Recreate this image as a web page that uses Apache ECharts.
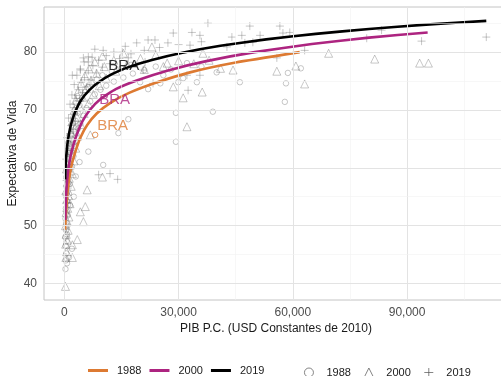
<!DOCTYPE html>
<html><head><meta charset="utf-8">
<script src="https://cdn.jsdelivr.net/npm/echarts@6/dist/echarts.min.js"></script>
<style>html,body{margin:0;padding:0;background:#fff}#c{width:501px;height:376px}</style>
</head><body><div id="c"></div>
<script>
// ---- data ----
const xTicks = [0, 30000, 60000, 90000];
const xMinorTicks = [15000, 45000, 75000, 105000];
const yTicks = [40, 50, 60, 70, 80];
const yMinorTicks = [45, 55, 65, 75, 85];

const fit1988 = [[200,49.3],[300,50.8],[450,52.3],[650,54.3],[950,56.5],[1400,58.7],[2000,60.7],[2900,62.8],[4200,65.2],[6000,67.4],[8500,69.4],[12000,71.2],[17000,72.95],[24000,74.7],[33000,76.5],[45000,78.2],[61800,80.0]];
const fit2000 = [[250,51.0],[300,52.8],[500,55.8],[750,58.0],[1100,60.0],[1600,61.9],[2300,63.8],[3300,65.8],[4700,68.0],[6700,70.0],[9500,71.9],[13500,73.6],[19000,75.1],[27000,76.8],[37000,78.4],[50000,80.0],[65000,81.4],[80000,82.5],[95400,83.4]];
const fit2019 = [[200,58.0],[300,59.8],[450,61.55],[700,63.5],[1000,65.0],[1500,66.8],[2200,68.5],[3200,70.2],[4500,71.8],[6500,73.4],[9000,74.8],[12500,76.2],[17000,77.45],[23000,78.65],[31000,79.9],[41000,81.1],[53000,82.2],[66000,83.15],[80000,84.0],[95000,84.75],[110800,85.4]];

const pts1988 = [[300,42.5],[400,44],[500,45.2],[350,46.5],[600,47.3],[250,48],[700,48.5],[450,49.2],[800,50],[550,50.5],[300,51.2],[900,51.8],[650,52.5],[400,53],[1000,53.6],[750,54.2],[500,55],[1200,55.5],[850,56],[600,56.8],[1400,57.2],[950,57.8],[700,58.5],[1600,59],[1100,59.6],[2000,60.2],[1300,60.8],[800,61.5],[2400,62],[1500,62.6],[1800,63.3],[2800,63.8],[1000,64.3],[2200,64.8],[3200,65.3],[1700,65.8],[2600,66.3],[3600,66.8],[1900,67.3],[4200,67.6],[3000,68.1],[2300,68.6],[5000,69],[3500,69.5],[2700,70],[5800,70.3],[4000,70.8],[3100,71.2],[6800,71.5],[4600,72],[3400,72.4],[8000,72.7],[5400,73.1],[9500,73.5],[6200,73.9],[11000,74.2],[7200,74.6],[13000,74.9],[8500,75.3],[15500,75.6],[10000,76],[18000,76.3],[12500,76.6],[21000,76.9],[15000,77.2],[24000,77.5],[17500,77.8],[29300,64.5],[29300,69.5],[39000,69.7],[46100,74.8],[32200,78.1],[34800,74.8],[14200,66.0],[16800,68.4],[10200,60.5],[6300,62.8],[22000,73.6],[19900,74.8],[25200,74.6],[29900,74.8],[31200,75.5],[58700,76.4],[62100,77.2],[58200,74.6],[57900,71.4],[1500,53.5],[2500,55],[3000,58.5],[4000,61],[2000,46],[1200,44.5],[700,43.5],[26000,76],[28000,77],[36000,77.5],[40000,76.5]];
const pts2000 = [[300,39.5],[400,44.5],[600,45.5],[350,46.8],[800,47.5],[500,48.5],[1000,49.2],[300,50],[700,50.8],[1200,51.5],[450,52.3],[900,53],[1500,53.8],[600,54.5],[1100,55.2],[400,56],[1800,56.8],[800,57.5],[1300,58.2],[2100,59],[550,59.8],[1600,60.5],[2500,61.2],[1000,62],[1900,62.7],[3000,63.4],[1400,64],[2300,64.8],[3600,65.5],[1700,66.2],[2800,66.9],[4300,67.5],[2100,68.1],[3300,68.8],[5200,69.4],[2600,70],[4000,70.6],[6300,71.1],[3000,71.7],[4800,72.2],[7600,72.7],[3600,73.2],[5800,73.7],[9200,74.2],[4400,74.6],[7000,75.1],[11000,75.5],[5400,75.9],[8500,76.3],[13500,76.7],[6500,77.1],[10500,77.5],[16500,77.9],[8000,78.3],[13000,78.6],[20000,78.9],[10000,79.3],[24000,79.5],[15500,79.8],[6000,56.2],[5500,53.3],[4200,52.4],[5000,50.7],[3400,47.6],[2100,46.7],[2100,44.5],[10000,58.4],[6800,65.7],[23000,80.9],[27000,78.1],[28600,74.0],[31200,72.1],[36200,73.1],[32200,67.1],[44300,76.9],[36400,79.8],[55800,76.7],[60800,77.6],[63100,74.5],[69400,79.8],[81500,78.8],[93300,78.1],[95600,78.1],[26000,77.5],[30000,78.5],[34000,78],[38000,78.6],[41000,77.2],[21000,77]];
const pts2019 = [[500,52.5],[700,54],[400,55.5],[900,56.5],[600,57.8],[1100,58.8],[800,59.8],[1400,60.6],[500,61.5],[1000,62.3],[1700,63],[1200,63.8],[2000,64.5],[700,65.2],[1500,65.9],[2400,66.6],[1800,67.3],[2900,68],[1100,68.6],[2200,69.2],[3400,69.8],[2600,70.4],[1500,71],[4000,71.5],[3100,72],[2000,72.6],[4800,73],[3700,73.5],[5800,74],[2600,74.4],[4400,74.8],[7000,75.2],[5300,75.6],[3300,76],[8400,76.4],[6300,76.8],[4200,77.1],[10000,77.4],[7500,77.7],[12000,78],[5200,78.3],[9000,78.6],[14500,78.9],[6300,79.2],[11000,79.4],[17500,79.7],[13000,80],[21000,80.3],[8000,80.5],[25000,80.8],[16000,81],[30000,81.3],[19000,81.6],[36000,81.8],[22000,82.1],[10200,80.3],[5000,79.0],[7300,79.1],[6300,78.3],[15200,80.0],[16800,79.0],[4200,76.9],[2100,76.0],[9000,58.8],[110800,82.6],[93800,81.9],[63100,80.3],[48700,84.5],[56600,84.5],[59200,83.4],[57400,83.3],[55800,79.0],[51400,82.9],[47400,81.6],[49500,81.7],[83300,83.8],[79400,82.4],[37700,85.0],[28600,83.3],[33500,83.4],[35600,82.9],[23800,82.1],[27200,81.6],[33000,81.2],[42700,80.9],[44000,82.6],[46600,82.9],[20700,76.9],[21200,78.3],[32200,76.0],[30100,75.9],[32500,73.4],[23300,74.6],[35600,76.0],[12000,59],[14000,58]];
const bra1988 = [[8100,65.7]];
const braLabels = [[12700,67.2,'1988'],[13200,71.7,'2000'],[15600,77.6,'2019']];
const years = ['1988','2000','2019'];

// ---- styling ----
const C = {'1988':'#dd7a32','2000':'#ad2480','2019':'#000000'};
const ptColor = 'rgba(95,95,95,0.48)';
const plusPath = 'path://M5,0 L5,10 M0,5 L10,5';

const gridData = [];
xTicks.forEach(v=>gridData.push({xAxis:v, lineStyle:{color:'#e3e3e3', width:1, type:'solid'}}));
xMinorTicks.forEach(v=>gridData.push({xAxis:v, lineStyle:{color:'#f1f1f1', width:0.6, type:'solid'}}));
yTicks.forEach(v=>gridData.push({yAxis:v, lineStyle:{color:'#e3e3e3', width:1, type:'solid'}}));
yMinorTicks.forEach(v=>gridData.push({yAxis:v, lineStyle:{color:'#f1f1f1', width:0.6, type:'solid'}}));

const chart = echarts.init(document.getElementById('c'), null, {renderer:'canvas'});
const fits = {'1988':fit1988,'2000':fit2000,'2019':fit2019};
const pts = {'1988':pts1988,'2000':pts2000,'2019':pts2019};
const syms = {'1988':'circle','2000':'triangle','2019':plusPath};
const sizes = {'1988':5.5,'2000':8,'2019':8};

const series = [{
  type:'line', name:'grid', data:[], silent:true, z:0,
  markLine:{silent:true, symbol:['none','none'], label:{show:false}, animation:false,
    lineStyle:{type:'solid'}, emphasis:{disabled:true}, data:gridData}
}];
years.forEach(y=>series.push({
  type:'scatter', name:y+' ', data:pts[y], symbol:syms[y], symbolSize:sizes[y], z:2,
  itemStyle:{color:'transparent', borderColor:ptColor, borderWidth:0.9}
}));
series.push({type:'scatter', name:'bra', data:bra1988, symbol:'circle', symbolSize:5.5, z:3,
  itemStyle:{color:'transparent', borderColor:C['1988'], borderWidth:1}});
years.forEach(y=>series.push({
  type:'line', name:y, data:fits[y], showSymbol:false, symbol:'none', smooth:0.15, z:4,
  lineStyle:{color:C[y], width:2.6}, itemStyle:{color:C[y]}
}));
series.push({
  type:'scatter', name:'labels', z:5, symbolSize:0,
  data: braLabels.map(d=>({value:[d[0],d[1]], label:{color:C[d[2]]}})),
  label:{show:true, position:'inside', formatter:'BRA', fontSize:15, fontFamily:'Liberation Sans, Arial, sans-serif'}
});

chart.setOption({
  animation:false,
  backgroundColor:'#ffffff',
  textStyle:{fontFamily:'Liberation Sans, Arial, sans-serif'},
  grid:{left:44, top:7, width:464, height:293, show:true, borderColor:'#c4c4c4', borderWidth:1,
    containLabel:false, outerBoundsMode:'none'},
  xAxis:{type:'value', min:-5340, max:116500,
    name:'PIB P.C. (USD Constantes de 2010)', nameLocation:'middle', nameGap:23, nameMoveOverlap:false,
    nameTextStyle:{color:'#1a1a1a', fontSize:12},
    axisLine:{show:false}, axisTick:{show:false}, splitLine:{show:false},
    axisLabel:{customValues:xTicks, color:'#4d4d4d', fontSize:12, margin:7,
      formatter:v=>Number(v).toLocaleString('en-US')}},
  yAxis:{type:'value', min:37.15, max:87.8,
    name:'Expectativa de Vida', nameLocation:'middle', nameGap:25, nameRotate:90, nameMoveOverlap:false,
    nameTextStyle:{color:'#1a1a1a', fontSize:12},
    axisLine:{show:false}, axisTick:{show:false}, splitLine:{show:false},
    axisLabel:{customValues:yTicks, color:'#4d4d4d', fontSize:12, margin:7}},
  legend:[
    {data:years, left:83, top:360, icon:'rect', itemWidth:20, itemHeight:3, itemGap:8,
     textStyle:{fontSize:11, color:'#1a1a1a', padding:[0,0,0,4]}},
    {data:years.map(y=>y+' '), left:299, top:362, itemWidth:9, itemHeight:9, itemGap:13,
     formatter:n=>n.trim(), textStyle:{fontSize:11, color:'#1a1a1a', padding:[0,0,0,8]},
     itemStyle:{color:'transparent', borderColor:'#555', borderWidth:0.9}}
  ],
  series:series
});
</script></body></html>
